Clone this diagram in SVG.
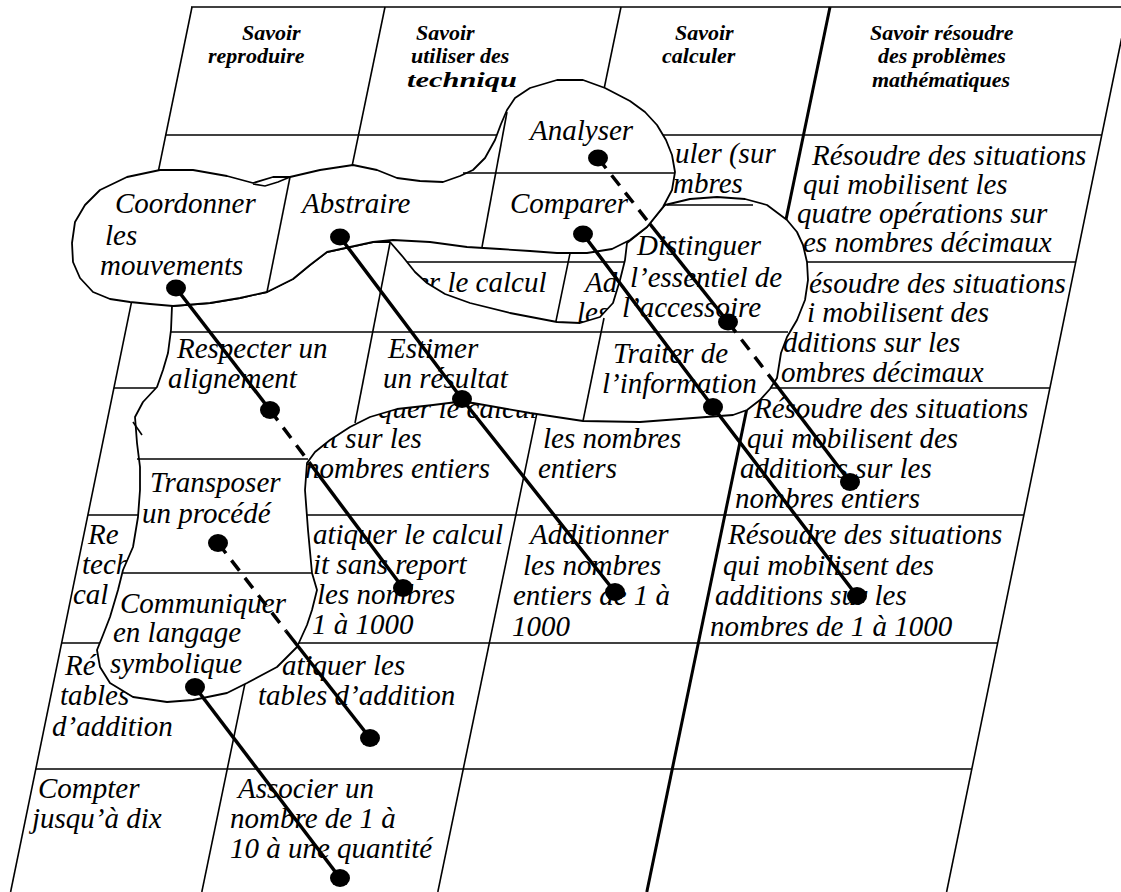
<svg xmlns="http://www.w3.org/2000/svg" width="1121" height="892" viewBox="0 0 1121 892">
<defs>
<style>
.g{stroke:#000;stroke-width:1.6;fill:none}
.gt{stroke:#000;stroke-width:3;fill:none}
.t{font-family:"Liberation Serif","Times New Roman",serif;font-style:italic;font-size:29px;fill:#000}
.h{font-family:"Liberation Serif","Times New Roman",serif;font-style:italic;font-weight:bold;font-size:22px;fill:#000}
.blob{fill:#fff;stroke:#000;stroke-width:1.8;stroke-linejoin:round}
.il{stroke:#000;stroke-width:1.6;fill:none}
.c{stroke:#000;stroke-width:3.5;fill:none}
.d{stroke:#000;stroke-width:3.5;fill:none;stroke-dasharray:13 9}
.dot{fill:#000}
</style>
</defs>
<rect width="1121" height="892" fill="#fff"/>

<g id="table-grid">
<line class="g" x1="191" y1="7" x2="1130" y2="7"/>
<line class="g" x1="165.8" y1="135" x2="1101.8" y2="135"/>
<line class="g" x1="139.7" y1="262" x2="1075.7" y2="262"/>
<line class="g" x1="113.9" y1="388" x2="1049.9" y2="388"/>
<line class="g" x1="87.9" y1="515" x2="1023.9" y2="515"/>
<line class="g" x1="61.6" y1="643" x2="997.6" y2="643"/>
<line class="g" x1="35.8" y1="769" x2="971.8" y2="769"/>
<line class="g" x1="192" y1="7" x2="10.6" y2="892"/>
<line class="g" x1="1128" y1="7" x2="946.6" y2="892"/>
<line class="g" x1="385" y1="7" x2="201.8" y2="892"/>
<line class="g" x1="621" y1="7" x2="437.8" y2="892"/>
<line class="gt" x1="830" y1="7" x2="646.8" y2="892"/>
</g>

<g id="headers">
<text class="h" x="242" y="40">Savoir</text>
<text class="h" x="208" y="63">reproduire</text>
<text class="h" x="416" y="40">Savoir</text>
<text class="h" x="411" y="63">utiliser des</text>
<text class="h" x="407" y="87" textLength="110" lengthAdjust="spacingAndGlyphs">techniqu</text>
<text class="h" x="675" y="40">Savoir</text>
<text class="h" x="662" y="63">calculer</text>
<text class="h" x="870" y="40">Savoir résoudre</text>
<text class="h" x="878" y="63">des problèmes</text>
<text class="h" x="872" y="87">mathématiques</text>
</g>

<g id="cells-row1">
<text class="t" x="675" y="163">uler (sur</text>
<text class="t" x="673" y="193">mbres</text>
<text class="t" x="812" y="165">Résoudre des situations</text>
<text class="t" x="803" y="194">qui mobilisent les</text>
<text class="t" x="797" y="223">quatre opérations sur</text>
<text class="t" x="803" y="252">es nombres décimaux</text>
</g>
<g id="cells-row2">
<text class="t" x="416" y="292">er le calcul</text>
<text class="t" x="585" y="292">Ad</text>
<text class="t" x="577" y="322">les</text>
<text class="t" x="809" y="293">ésoudre des situations</text>
<text class="t" x="807" y="322">i mobilisent des</text>
<text class="t" x="783" y="352">dditions sur les</text>
<text class="t" x="781" y="382">ombres décimaux</text>
</g>
<g id="cells-row3">
<text class="t" x="378" y="418">quer le calcul</text>
<text class="t" x="322" y="448">it sur les</text>
<text class="t" x="305" y="478">nombres entiers</text>
<text class="t" x="543" y="448">les nombres</text>
<text class="t" x="538" y="478">entiers</text>
<text class="t" x="754" y="418">Résoudre des situations</text>
<text class="t" x="747" y="448">qui mobilisent des</text>
<text class="t" x="740" y="478">additions sur les</text>
<text class="t" x="735" y="508">nombres entiers</text>
</g>
<g id="cells-row4">
<text class="t" x="88" y="544">Re</text>
<text class="t" x="82" y="574">tech</text>
<text class="t" x="73" y="604">cal</text>
<text class="t" x="313" y="544">atiquer le calcul</text>
<text class="t" x="313" y="574">it sans report</text>
<text class="t" x="317" y="604">les nombres</text>
<text class="t" x="312" y="634">1 à 1000</text>
<text class="t" x="530" y="544">Additionner</text>
<text class="t" x="523" y="575">les nombres</text>
<text class="t" x="513" y="605">entiers de 1 à</text>
<text class="t" x="512" y="636">1000</text>
<text class="t" x="728" y="544">Résoudre des situations</text>
<text class="t" x="723" y="575">qui mobilisent des</text>
<text class="t" x="715" y="605">additions sur les</text>
<text class="t" x="710" y="636">nombres de 1 à 1000</text>
</g>
<g id="cells-row5">
<text class="t" x="65" y="675">Ré</text>
<text class="t" x="60" y="705">tables</text>
<text class="t" x="52" y="736">d’addition</text>
<text class="t" x="282" y="675">atiquer les</text>
<text class="t" x="258" y="705">tables d’addition</text>
</g>
<g id="cells-row6">
<text class="t" x="38" y="798">Compter</text>
<text class="t" x="32" y="828">jusqu’à dix</text>
<text class="t" x="238" y="798">Associer un</text>
<text class="t" x="230" y="828">nombre de 1 à</text>
<text class="t" x="230" y="858">10 à une quantité</text>
</g>

<g id="blob-lower">
<polygon class="blob" points="172,306 210,303 240,298 267,292 293,279 310,265 327,252 350,247 373,242 390,242 403,257 415,272 427,283 445,294 470,303 510,313 557,322 580,323 600,317 613,303 620,280 625,260 627,243 647,227 665,205 690,199 717,197 745,199 767,205 787,220 797,232 803,245 807,262 808,280 805,300 797,320 787,337 781,353 777,378 770,389 760,400 747,410 733,415 693,418 640,422 583,421 530,413 473,403 457,402 433,405 397,409 370,417 350,427 330,440 315,452 307,463 305,490 308,530 312,573 317,590 312,610 307,625 297,647 277,667 247,683 227,693 193,700 167,702 133,697 110,683 100,667 97,650 103,635 110,617 118,590 123,570 133,547 138,517 140,490 140,467 137,443 135,417 143,402 157,387 163,370 168,353 171,330"/>
<line class="il" x1="667" y1="205" x2="753" y2="205"/>
<line class="il" x1="171" y1="332" x2="788" y2="332"/>
<line class="il" x1="390" y1="243" x2="355" y2="423"/>
<line class="il" x1="604" y1="318" x2="583" y2="421"/>
<line class="il" x1="137" y1="459" x2="308" y2="459"/>
<line class="il" x1="122" y1="573" x2="312" y2="573"/>
<line class="il" x1="133" y1="422" x2="142" y2="435"/>
<text class="t" x="637" y="255">Distinguer</text>
<text class="t" x="630" y="287">l’essentiel de</text>
<text class="t" x="622" y="317">l’accessoire</text>
<text class="t" x="177" y="358">Respecter un</text>
<text class="t" x="168" y="388">alignement</text>
<text class="t" x="388" y="358">Estimer</text>
<text class="t" x="383" y="388">un résultat</text>
<text class="t" x="613" y="363">Traiter de</text>
<text class="t" x="602" y="393">l’information</text>
<text class="t" x="150" y="492">Transposer</text>
<text class="t" x="142" y="523">un procédé</text>
<text class="t" x="120" y="613">Communiquer</text>
<text class="t" x="113" y="642">en langage</text>
<text class="t" x="110" y="673">symbolique</text>
</g>

<g id="blob-upper">
<polygon class="blob" points="72,243 75,222 85,205 100,190 127,177 160,170 193,170 227,176 253,183 273,177 290,177 320,170 353,165 377,170 397,178 420,181 443,182 460,176 473,170 485,158 495,140 501,124 507,110 515,98 530,88 557,80 583,80 605,88 630,101 645,112 657,125 666,140 672,155 675,172 672,190 663,207 647,227 630,240 612,249 587,253 557,253 530,251 500,249 467,247 430,242 393,240 373,242 350,247 327,252 310,265 293,279 267,292 240,298 210,303 173,306 150,304 130,302 110,299 93,292 80,278 73,262"/>
<path class="il" d="M253,184 L265,186 L278,182 L290,177"/>
<line class="il" x1="290" y1="177" x2="267" y2="292"/>
<line class="il" x1="507" y1="112" x2="482" y2="247"/>
<line class="il" x1="463" y1="173" x2="675" y2="173"/>
<text class="t" x="115" y="213">Coordonner</text>
<text class="t" x="105" y="245">les</text>
<text class="t" x="100" y="275">mouvements</text>
<text class="t" x="302" y="213">Abstraire</text>
<text class="t" x="530" y="140">Analyser</text>
<text class="t" x="510" y="213">Comparer</text>
</g>

<g id="connectors">
<line class="c" x1="176" y1="288" x2="270" y2="410"/>
<line class="d" x1="270" y1="410" x2="309" y2="462"/>
<line class="c" x1="309" y1="462" x2="403" y2="588"/>
<polyline class="c" points="340,237 462,399 615,592"/>
<line class="d" x1="598" y1="158" x2="650" y2="224"/>
<line class="c" x1="650" y1="224" x2="728" y2="322"/>
<line class="d" x1="728" y1="322" x2="774" y2="382"/>
<line class="c" x1="774" y1="382" x2="850" y2="482"/>
<polyline class="c" points="583,234 713,407 857,596"/>
<line class="d" x1="218" y1="543" x2="286" y2="631"/>
<line class="c" x1="286" y1="631" x2="370" y2="738"/>
<line class="c" x1="195" y1="687" x2="340" y2="878"/>
<g class="dot">
<ellipse cx="176" cy="288" rx="10" ry="8.5"/>
<ellipse cx="340" cy="237" rx="10" ry="8.5"/>
<ellipse cx="598" cy="158" rx="10" ry="8.5"/>
<ellipse cx="583" cy="234" rx="10" ry="8.5"/>
<ellipse cx="728" cy="322" rx="10" ry="8.5"/>
<ellipse cx="270" cy="410" rx="10" ry="9"/>
<ellipse cx="462" cy="399" rx="10" ry="9"/>
<ellipse cx="713" cy="407" rx="10" ry="9"/>
<ellipse cx="850" cy="482" rx="10" ry="9"/>
<ellipse cx="403" cy="588" rx="10" ry="9"/>
<ellipse cx="615" cy="592" rx="10" ry="9"/>
<ellipse cx="857" cy="596" rx="10" ry="9"/>
<ellipse cx="218" cy="543" rx="10" ry="9"/>
<ellipse cx="370" cy="738" rx="10" ry="9"/>
<ellipse cx="195" cy="687" rx="10" ry="9"/>
<ellipse cx="340" cy="878" rx="10" ry="9"/>
</g>
</g>
</svg>
